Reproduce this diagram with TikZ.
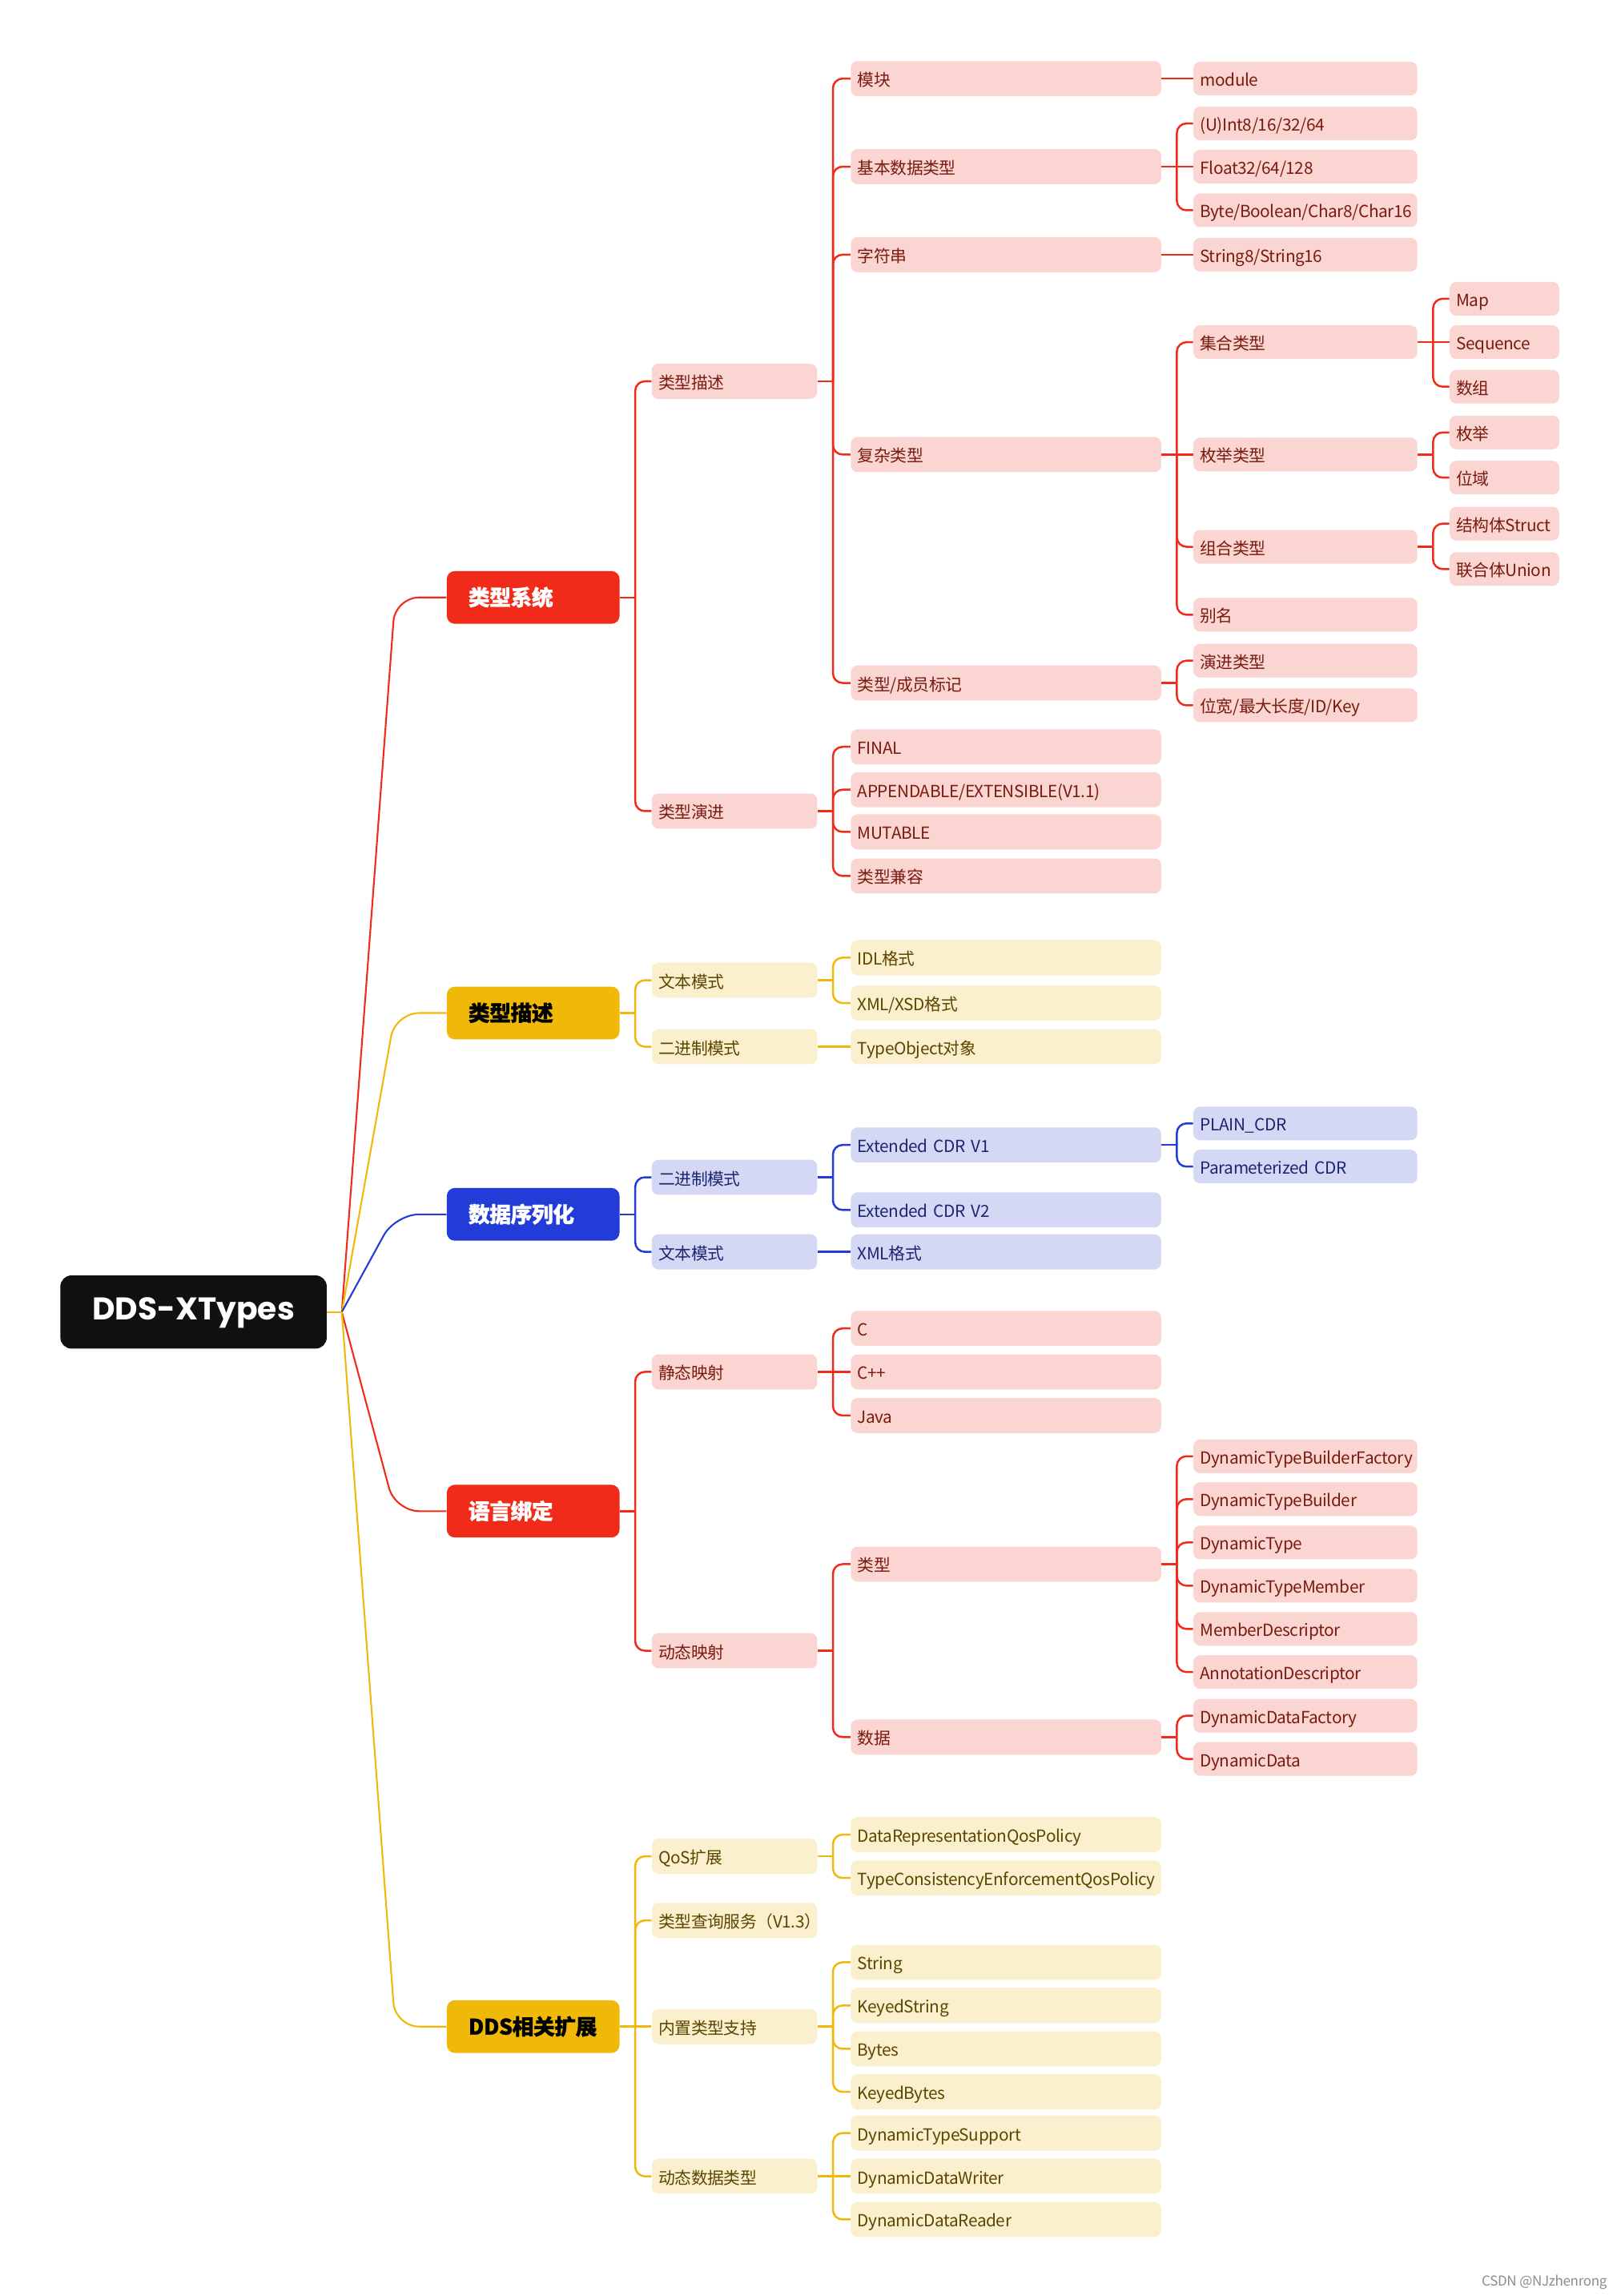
\documentclass[tikz,border=0pt]{standalone}
\usepackage{fontspec}
\setmainfont{Noto Sans CJK SC}[LetterSpace=-1.8]
\newfontfamily\popfont{Poppins}
\usetikzlibrary{calc}
\definecolor{redM}{HTML}{F12B19}
\definecolor{redL}{HTML}{FAD5D1}
\definecolor{redT}{HTML}{7A1B10}
\definecolor{yelM}{HTML}{F0B90A}
\definecolor{yelL}{HTML}{FBF0CD}
\definecolor{yelT}{HTML}{5B4500}
\definecolor{bluM}{HTML}{233CD8}
\definecolor{bluL}{HTML}{D4D8F5}
\definecolor{bluT}{HTML}{1C2670}
\definecolor{rootC}{HTML}{111111}
\newcommand\stub[2]{\draw[ln,#2] (#1.east) -- ++(10.5,0) coordinate (#1-j);}
\newcommand\kid[3]{\draw[ln,#3,rounded corners=6pt] (#1-j) |- (#2.west);}
\newcommand\kidS[3]{\draw[ln,#3] (#1-j) -- (#2.west);}
\begin{document}
\begin{tikzpicture}[x=0.91375pt,y=-0.91375pt,
  ln/.style={line width=1.25pt},
  rootcurve/.style={line width=1.05pt,rounded corners=15pt},
  box/.style={anchor=west,rounded corners=4.2pt,inner xsep=4.2pt,inner ysep=0pt,align=left,
    font=\fontsize{10.4pt}{12pt}\selectfont,text height=1.05em,text depth=0.1em,
    execute at begin node={\hyphenpenalty=10000\exhyphenpenalty=10000}},
  l2/.style={box,minimum width=103.3pt,text width=94.9pt,minimum height=21.9pt},
  l3/.style={box,minimum width=193.7pt,text width=185.3pt,minimum height=21.9pt},
  l4/.style={box,minimum width=139.8pt,text width=131.4pt,minimum height=21pt},
  l5/.style={box,minimum width=68.5pt,text width=60.1pt,minimum height=21pt},
  l1/.style={anchor=west,rounded corners=5pt,minimum width=107.8pt,minimum height=32.9pt,
    inner xsep=13.5pt,inner ysep=0pt,text width=80.8pt,align=left,
    font=\fontsize{13.4pt}{15pt}\selectfont\bfseries\addfontfeatures{FakeBold=0.8},
    text height=1.15em,text depth=0.15em,
    execute at begin node={\hyphenpenalty=10000}},
  R/.style={fill=redL,text=redT},
  Y/.style={fill=yelL,text=yelT},
  B/.style={fill=bluL,text=bluT},
  rootbox/.style={anchor=west,fill=rootC,text=white,rounded corners=7pt,minimum width=166.3pt,
    minimum height=45.7pt,inner sep=0pt,text height=1.03em,text depth=0.07em,
    font=\popfont\bfseries\fontsize{19.6pt}{24pt}\selectfont}
]
\fill[white] (0,0) rectangle (1107,1568);
\useasboundingbox (0,0) rectangle (1107,1568);

% root
\node[rootbox] (root) at (41,896) {DDS-XTypes};
\coordinate (rj) at (233.5,896);

% level 1
\node[l1,fill=redM,text=white] (ts) at (305,408) {类型系统};
\node[l1,fill=yelM,text=black] (td) at (305,691.8) {类型描述};
\node[l1,fill=bluM,text=white] (sx) at (305,829.3) {数据序列化};
\node[l1,fill=redM,text=white] (lb) at (305,1032) {语言绑定};
\node[l1,fill=yelM,text=black] (ext) at (305,1384) {DDS相关扩展};

% ===== 类型系统 =====
\node[l2,R] (ts1) at (445,260.4) {类型描述};
\node[l2,R] (ts2) at (445,553.9) {类型演进};
\node[l3,R] (m) at (581,53.7) {模块};
\node[l3,R] (basic) at (581,113.8) {基本数据类型};
\node[l3,R] (str) at (581,173.9) {字符串};
\node[l3,R] (cx) at (581,310.4) {复杂类型};
\node[l3,R] (mark) at (581,466.4) {类型/成员标记};
\node[l4,R] (mod) at (815,53.7) {module};
\node[l4,R] (int) at (815,84.3) {(U)Int8/16/32/64};
\node[l4,R] (flt) at (815,113.8) {Float32/64/128};
\node[l4,R] (byte) at (815,143.6) {Byte/Boolean/Char8/Char16};
\node[l4,R] (s816) at (815,173.9) {String8/String16};
\node[l4,R] (coll) at (815,233.7) {集合类型};
\node[l4,R] (enumt) at (815,310.4) {枚举类型};
\node[l4,R] (comb) at (815,373.4) {组合类型};
\node[l4,R] (alias) at (815,419.8) {别名};
\node[l4,R] (evo) at (815,451.2) {演进类型};
\node[l4,R] (bw) at (815,481.7) {位宽/最大长度/ID/Key};
\node[l5,R] (map) at (990,204) {Map};
\node[l5,R] (seq) at (990,233.7) {Sequence};
\node[l5,R] (arr) at (990,264.1) {数组};
\node[l5,R] (en) at (990,295.3) {枚举};
\node[l5,R] (bf) at (990,326.2) {位域};
\node[l5,R] (st) at (990,357.6) {结构体Struct};
\node[l5,R] (un) at (990,388.6) {联合体Union};
\node[l3,R] (fin) at (581,510) {FINAL};
\node[l3,R] (app) at (581,539.3) {APPENDABLE/EXTENSIBLE(V1.1)};
\node[l3,R] (mut) at (581,568.1) {MUTABLE};
\node[l3,R] (compat) at (581,598.2) {类型兼容};

% ===== 类型描述 =====
\node[l2,Y] (td1) at (445,669.4) {文本模式};
\node[l2,Y] (td2) at (445,714.8) {二进制模式};
\node[l3,Y] (idl) at (581,654) {IDL格式};
\node[l3,Y] (xsd) at (581,685) {XML/XSD格式};
\node[l3,Y] (tobj) at (581,714.8) {TypeObject对象};

% ===== 数据序列化 =====
\node[l2,B] (sx1) at (445,804) {二进制模式};
\node[l2,B] (sx2) at (445,854.9) {文本模式};
\node[l3,B] (cdr1) at (581,781.9) {Extended CDR V1};
\node[l3,B] (cdr2) at (581,826.3) {Extended CDR V2};
\node[l3,B] (xml) at (581,854.9) {XML格式};
\node[l4,B] (plain) at (815,767.2) {PLAIN\_CDR};
\node[l4,B] (param) at (815,796.7) {Parameterized CDR};

% ===== 语言绑定 =====
\node[l2,R] (lb1) at (445,936.9) {静态映射};
\node[l2,R] (lb2) at (445,1127.3) {动态映射};
\node[l3,R] (c) at (581,907.2) {C};
\node[l3,R] (cpp) at (581,936.9) {C++};
\node[l3,R] (java) at (581,966.7) {Java};
\node[l3,R] (typ) at (581,1068.2) {类型};
\node[l3,R] (dat) at (581,1186.3) {数据};
\node[l4,R] (dtbf) at (815,994.5) {DynamicTypeBuilderFactory};
\node[l4,R] (dtb) at (815,1023.8) {DynamicTypeBuilder};
\node[l4,R] (dt) at (815,1053.4) {DynamicType};
\node[l4,R] (dtm) at (815,1082.9) {DynamicTypeMember};
\node[l4,R] (md) at (815,1112.4) {MemberDescriptor};
\node[l4,R] (ad) at (815,1141.9) {AnnotationDescriptor};
\node[l4,R] (ddf) at (815,1171.7) {DynamicDataFactory};
\node[l4,R] (dd) at (815,1201.2) {DynamicData};

% ===== DDS相关扩展 =====
\node[l2,Y] (e1) at (445,1267.7) {QoS扩展};
\node[l2,Y] (e2) at (445,1311.5) {类型查询服务（V1.3）};
\node[l2,Y] (e3) at (445,1384) {内置类型支持};
\node[l2,Y] (e4) at (445,1486.2) {动态数据类型};
\node[l3,Y] (drq) at (581,1252.9) {DataRepresentationQosPolicy};
\node[l3,Y] (tce) at (581,1282.5) {TypeConsistencyEnforcementQosPolicy};
\node[l3,Y] (bs) at (581,1340.1) {String};
\node[l3,Y] (bks) at (581,1369.6) {KeyedString};
\node[l3,Y] (bb) at (581,1399.2) {Bytes};
\node[l3,Y] (bkb) at (581,1428.6) {KeyedBytes};
\node[l3,Y] (dts) at (581,1456.7) {DynamicTypeSupport};
\node[l3,Y] (ddw) at (581,1486.2) {DynamicDataWriter};
\node[l3,Y] (ddr) at (581,1515.7) {DynamicDataReader};

% watermark
\node[anchor=east,inner sep=0pt,text=black!45,font=\fontsize{8.5pt}{10pt}\selectfont] (wm) at (1098,1558.5) {CSDN @NJzhenrong};

% ===== root connectors =====
\draw[rootcurve,redM] (rj) -- ($(ts.west)+(-35,0)$) -- (ts.west);
\draw[rootcurve,yelM] (rj) -- ($(td.west)+(-35,0)$) -- (td.west);
\draw[rootcurve,bluM] (rj) -- ($(sx.west)+(-35,0)$) -- (sx.west);
\draw[rootcurve,redM] (rj) -- ($(lb.west)+(-35,0)$) -- (lb.west);
\draw[rootcurve,yelM] (rj) -- ($(ext.west)+(-35,0)$) -- (ext.west);
\draw[line width=1.2pt,yelM] (root.east) -- (rj);

% ===== 类型系统 connectors =====
\stub{ts}{redM} \kid{ts}{ts1}{redM} \kid{ts}{ts2}{redM}
\stub{ts1}{redM} \kid{ts1}{m}{redM} \kid{ts1}{basic}{redM} \kid{ts1}{str}{redM} \kid{ts1}{cx}{redM} \kid{ts1}{mark}{redM}
\stub{ts2}{redM} \kid{ts2}{fin}{redM} \kid{ts2}{app}{redM} \kid{ts2}{mut}{redM} \kid{ts2}{compat}{redM}
\stub{m}{redM} \kidS{m}{mod}{redM}
\stub{basic}{redM} \kid{basic}{int}{redM} \kidS{basic}{flt}{redM} \kid{basic}{byte}{redM}
\stub{str}{redM} \kidS{str}{s816}{redM}
\stub{cx}{redM} \kid{cx}{coll}{redM} \kidS{cx}{enumt}{redM} \kid{cx}{comb}{redM} \kid{cx}{alias}{redM}
\stub{mark}{redM} \kid{mark}{evo}{redM} \kid{mark}{bw}{redM}
\stub{coll}{redM} \kid{coll}{map}{redM} \kidS{coll}{seq}{redM} \kid{coll}{arr}{redM}
\stub{enumt}{redM} \kid{enumt}{en}{redM} \kid{enumt}{bf}{redM}
\stub{comb}{redM} \kid{comb}{st}{redM} \kid{comb}{un}{redM}

% ===== 类型描述 connectors =====
\stub{td}{yelM} \kid{td}{td1}{yelM} \kid{td}{td2}{yelM}
\stub{td1}{yelM} \kid{td1}{idl}{yelM} \kid{td1}{xsd}{yelM}
\stub{td2}{yelM} \kidS{td2}{tobj}{yelM}

% ===== 数据序列化 connectors =====
\stub{sx}{bluM} \kid{sx}{sx1}{bluM} \kid{sx}{sx2}{bluM}
\stub{sx1}{bluM} \kid{sx1}{cdr1}{bluM} \kid{sx1}{cdr2}{bluM}
\stub{sx2}{bluM} \kidS{sx2}{xml}{bluM}
\stub{cdr1}{bluM} \kid{cdr1}{plain}{bluM} \kid{cdr1}{param}{bluM}

% ===== 语言绑定 connectors =====
\stub{lb}{redM} \kid{lb}{lb1}{redM} \kid{lb}{lb2}{redM}
\stub{lb1}{redM} \kid{lb1}{c}{redM} \kidS{lb1}{cpp}{redM} \kid{lb1}{java}{redM}
\stub{lb2}{redM} \kid{lb2}{typ}{redM} \kid{lb2}{dat}{redM}
\stub{typ}{redM} \kid{typ}{dtbf}{redM} \kid{typ}{dtb}{redM} \kid{typ}{dt}{redM} \kid{typ}{dtm}{redM} \kid{typ}{md}{redM} \kid{typ}{ad}{redM}
\stub{dat}{redM} \kid{dat}{ddf}{redM} \kid{dat}{dd}{redM}

% ===== DDS相关扩展 connectors =====
\stub{ext}{yelM} \kid{ext}{e1}{yelM} \kid{ext}{e2}{yelM} \kidS{ext}{e3}{yelM} \kid{ext}{e4}{yelM}
\stub{e1}{yelM} \kid{e1}{drq}{yelM} \kid{e1}{tce}{yelM}
\stub{e3}{yelM} \kid{e3}{bs}{yelM} \kid{e3}{bks}{yelM} \kid{e3}{bb}{yelM} \kid{e3}{bkb}{yelM}
\stub{e4}{yelM} \kid{e4}{dts}{yelM} \kidS{e4}{ddw}{yelM} \kid{e4}{ddr}{yelM}
\end{tikzpicture}
\end{document}
